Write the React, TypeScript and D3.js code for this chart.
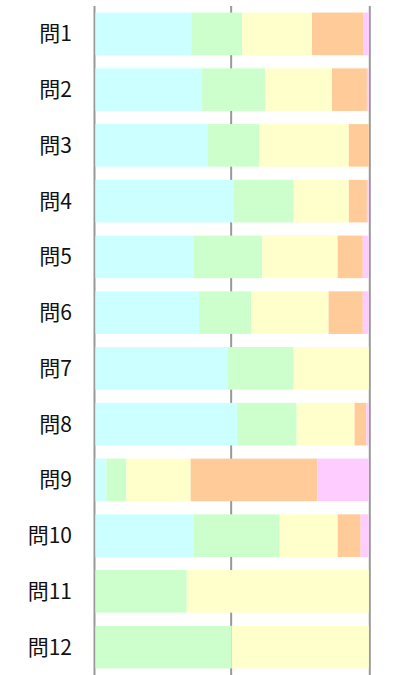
import React, { useRef, useEffect } from 'react';
import * as d3 from 'd3';

const questions = ['問1', '問2', '問3', '問4', '問5', '問6', '問7', '問8', '問9', '問10', '問11', '問12'];
const s1 = [35.0, 39.0, 41.1, 50.5, 35.8, 37.9, 48.4, 51.8, 4.0, 35.8, 0, 0];
const s2 = [18.7, 23.1, 18.8, 22.0, 25.2, 19.0, 24.1, 21.8, 7.3, 31.6, 33.4, 49.8];
const s3 = [25.5, 24.4, 32.8, 20.2, 27.6, 28.4, 27.5, 21.2, 23.5, 21.2, 66.6, 50.2];
const s4 = [18.7, 12.8, 7.3, 6.6, 9.2, 12.5, 0, 4.3, 46.4, 8.4, 0, 0];
const s5 = [2.2, 0.7, 0, 0.7, 2.2, 2.2, 0, 0.9, 18.8, 3.0, 0, 0];
const seriesColors = ['#CCFFFF', '#CCFFCC', '#FFFFCC', '#FFCC99', '#FFCCFF'];
const gridTicks = [0, 50, 100];

const W = 403;
const H = 675;

const App: React.FC = () => {
  const svgRef = useRef<SVGSVGElement | null>(null);

  useEffect(() => {
    const svg = d3.select(svgRef.current);
    svg.selectAll('*').remove();

    const x = d3.scaleLinear().domain([0, 100]).range([95.5, 368.8]);
    const y = d3.scaleBand<string>()
      .domain(questions)
      .range([6, 675])
      .paddingInner(0.236)
      .paddingOuter(0.118);

    const series = [s1, s2, s3, s4, s5];
    const rows = questions.map((q, i) => {
      const r: any = { q };
      series.forEach((s, k) => (r['k' + k] = s[i]));
      return r;
    });
    const stack = d3.stack<any>().keys(series.map((_, k) => 'k' + k))(rows);

    // gridlines (behind the bars, the 100% one sits just outside)
    svg.append('g')
      .selectAll('line')
      .data(gridTicks)
      .enter()
      .append('line')
      .attr('x1', d => x(d) + (d === 100 ? 1 : -1))
      .attr('x2', d => x(d) + (d === 100 ? 1 : -1))
      .attr('y1', 6)
      .attr('y2', 675)
      .attr('stroke', '#999')
      .attr('stroke-width', 2);

    // bars
    svg.append('g')
      .selectAll('g')
      .data(stack)
      .enter()
      .append('g')
      .attr('fill', (d, k) => seriesColors[k])
      .selectAll('rect')
      .data(d => d)
      .enter()
      .append('rect')
      .attr('x', d => x(d[0]))
      .attr('y', d => y(d.data.q)!)
      .attr('width', d => Math.max(0, x(d[1]) - x(d[0])))
      .attr('height', y.bandwidth());

    // labels
    svg.append('g')
      .selectAll('text')
      .data(questions)
      .enter()
      .append('text')
      .attr('x', 72)
      .attr('y', d => y(d)! + y.bandwidth() / 2)
      .attr('dy', '0.36em')
      .attr('text-anchor', 'end')
      .style('font-family', '"Noto Sans CJK JP", sans-serif')
      .style('font-size', '21px')
      .attr('fill', '#111')
      .text(d => d);
  }, []);

  return (
    <>
      <style>{`body{margin:0}`}</style>
      <svg ref={svgRef} width={W} height={H} style={{ display: 'block', background: '#fff' }}></svg>
    </>
  );
};

export default App;
